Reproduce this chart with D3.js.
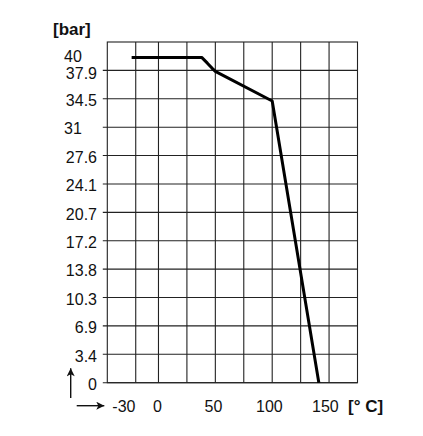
<!DOCTYPE html>
<head>
  <meta charset="utf-8">
  <script src="https://d3js.org/d3.v7.min.js"></script>
  <style>
    body { margin:0; background:white; }
    text { font-family: 'Liberation Sans', Arial, Helvetica, sans-serif; fill: #111; }
    .tickText { font-size: 16px; }
    .unitText { font-size: 17px; font-weight: bold; }
  </style>
</head>
<body>
  <script>
  // pressure grid: 50 psi steps converted to bar
  const yGrid = [0, 3.447, 6.895, 10.342, 13.790, 17.237, 20.684, 24.132, 27.579, 31.026, 34.474, 37.921];
  const yLabels = ['0', '3.4', '6.9', '10.3', '13.8', '17.2', '20.7', '24.1', '27.6', '31', '34.5', '37.9'];
  const yTopLabel = { value: 39.8, label: '40' };

  // temperature grid
  const xGrid = [-20, 0, 25, 50, 75, 100, 125, 150];
  const xLabels = [-30, 0, 50, 100, 150];

  // pressure / temperature curve
  const tempC    = [-23.6, 38, 43, 47, 50, 100, 141];
  const pressure = [39.5, 39.5, 38.8, 38.2, 37.8, 34.2, 0];

  const width = 423, height = 436;

  const svg = d3.select('body')
                .append('svg')
                .attr('width', width)
                .attr('height', height);

  // scales (plot frame runs -45..175 °C and 0..600 psi)
  const x = d3.scaleLinear().domain([-45, 175]).range([107.3, 357.5]);
  const y = d3.scaleLinear().domain([0, 41.369]).range([382.7, 42]);

  // grid
  const grid = svg.append('g')
                  .style('stroke', '#222')
                  .style('stroke-width', 1.1);

  grid.selectAll('.hLine')
      .data(yGrid)
      .enter()
      .append('line')
      .attr('x1', x.range()[0] - 4.5)
      .attr('x2', x.range()[1])
      .attr('y1', d => y(d))
      .attr('y2', d => y(d));

  grid.selectAll('.vLine')
      .data(xGrid)
      .enter()
      .append('line')
      .attr('x1', d => x(d))
      .attr('x2', d => x(d))
      .attr('y1', y.range()[0])
      .attr('y2', y.range()[1]);

  // frame
  grid.append('rect')
      .attr('x', x.range()[0])
      .attr('y', y.range()[1])
      .attr('width', x.range()[1] - x.range()[0])
      .attr('height', y.range()[0] - y.range()[1])
      .style('fill', 'none');

  // y tick labels (integers 31 and 40 sit flush left in the original)
  const yTicks = yGrid.map((v, i) => ({ value: v, label: yLabels[i] })).concat([yTopLabel]);
  svg.append('g')
     .selectAll('text')
     .data(yTicks)
     .enter()
     .append('text')
     .classed('tickText', true)
     .attr('x', d => /^\d\d$/.test(d.label) ? 64 : 97)
     .attr('y', d => y(d.value))
     .attr('dy', d => d.label === '37.9' ? '0.52em' : '0.45em')
     .attr('text-anchor', d => /^\d\d$/.test(d.label) ? 'start' : 'end')
     .text(d => d.label);

  // x tick labels
  svg.append('g')
     .selectAll('text')
     .data(xLabels)
     .enter()
     .append('text')
     .classed('tickText', true)
     .attr('x', d => x(d) - 1 - d * 0.018)
     .attr('y', 412)
     .attr('text-anchor', 'middle')
     .text(d => d);

  // units
  svg.append('text')
     .classed('unitText', true)
     .attr('x', 53)
     .attr('y', 35)
     .text('[bar]');

  svg.append('text')
     .classed('unitText', true)
     .attr('x', 348)
     .attr('y', 412)
     .text('[° C]');

  // arrows
  svg.append('defs')
     .append('marker')
     .attr('id', 'head')
     .attr('viewBox', '0 0 10 10')
     .attr('refX', 10)
     .attr('refY', 5)
     .attr('markerWidth', 10)
     .attr('markerHeight', 8)
     .attr('markerUnits', 'userSpaceOnUse')
     .attr('orient', 'auto')
     .append('path')
     .attr('d', 'M0,0 L10,5 L0,10 L2.5,5 Z')
     .style('fill', '#111');

  svg.append('line')
     .attr('x1', 70.7).attr('y1', 398)
     .attr('x2', 70.7).attr('y2', 368.3)
     .style('stroke', '#111')
     .style('stroke-width', 1.4)
     .attr('marker-end', 'url(#head)');

  svg.append('line')
     .attr('x1', 76.7).attr('y1', 405.7)
     .attr('x2', 104.3).attr('y2', 405.7)
     .style('stroke', '#111')
     .style('stroke-width', 1.4)
     .attr('marker-end', 'url(#head)');

  // curve
  const line = d3.line()
                 .x(d => x(d[0]))
                 .y(d => y(d[1]));

  svg.append('path')
     .datum(tempC.map((t, i) => [t, pressure[i]]))
     .attr('d', line)
     .style('fill', 'none')
     .style('stroke', '#000')
     .style('stroke-width', 3)
     .style('stroke-linejoin', 'round');
  </script>
</body>
